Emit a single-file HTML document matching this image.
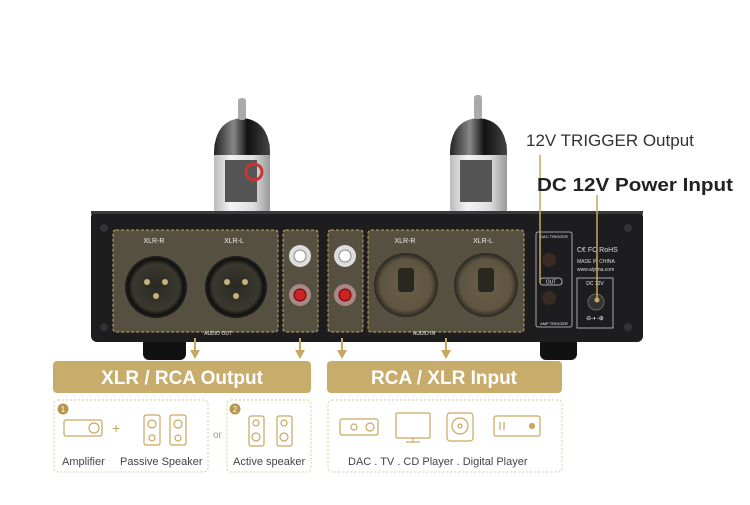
<!DOCTYPE html>
<html><head><style>
body{margin:0;width:750px;height:500px;background:#fff;overflow:hidden;font-family:"Liberation Sans",sans-serif}
</style></head><body>
<svg width="750" height="500" viewBox="0 0 750 500" xmlns="http://www.w3.org/2000/svg">
<defs>
<linearGradient id="glass" x1="0" x2="1"><stop offset="0" stop-color="#bbb"/><stop offset="0.3" stop-color="#f4f4f4"/><stop offset="0.7" stop-color="#ddd"/><stop offset="1" stop-color="#999"/></linearGradient>
<linearGradient id="dome" x1="0" x2="1"><stop offset="0" stop-color="#222"/><stop offset="0.35" stop-color="#888"/><stop offset="0.6" stop-color="#111"/><stop offset="1" stop-color="#444"/></linearGradient>
<radialGradient id="xlr"><stop offset="0" stop-color="#2a2a24"/><stop offset="0.75" stop-color="#3a382e"/><stop offset="0.9" stop-color="#111"/><stop offset="1" stop-color="#222"/></radialGradient>
<radialGradient id="combo"><stop offset="0" stop-color="#6b6048"/><stop offset="0.8" stop-color="#5e5440"/><stop offset="1" stop-color="#2a2720"/></radialGradient>
</defs>
<g>
<rect x="214" y="140" width="56" height="75" rx="6" fill="url(#glass)"/>
<path d="M214 155 Q214 120 242 118 Q270 120 270 155 Z" fill="url(#dome)"/>
<rect x="238" y="98" width="8" height="22" rx="3" fill="#aaa"/>
<rect x="225" y="160" width="32" height="42" fill="#555"/>
<circle cx="254" cy="172" r="8" fill="none" stroke="#c33" stroke-width="3"/>
<rect x="450" y="140" width="57" height="75" rx="6" fill="url(#glass)"/>
<path d="M450 155 Q450 120 478 118 Q507 120 507 155 Z" fill="url(#dome)"/>
<rect x="474" y="95" width="8" height="24" rx="3" fill="#aaa"/>
<rect x="460" y="160" width="32" height="42" fill="#555"/>
</g>
<rect x="143" y="335" width="43" height="25" rx="6" fill="#111"/>
<rect x="540" y="335" width="37" height="25" rx="6" fill="#111"/>
<rect x="91" y="211" width="552" height="131" rx="6" fill="#1d1d1f"/>
<rect x="91" y="211" width="552" height="3" fill="#3a3a3c"/>
<circle cx="104" cy="228" r="4" fill="#333"/><circle cx="104" cy="327" r="4" fill="#333"/><circle cx="628" cy="228" r="4" fill="#333"/><circle cx="628" cy="327" r="4" fill="#333"/>
<g fill="#55503f" stroke="#c9a760" stroke-width="1" stroke-dasharray="3,2">
<rect x="113" y="230" width="165" height="102" rx="3"/>
<rect x="283" y="230" width="35" height="102" rx="3"/>
<rect x="328" y="230" width="35" height="102" rx="3"/>
<rect x="368" y="230" width="156" height="102" rx="3"/>
</g>
<g font-size="7" fill="#eee" text-anchor="middle">
<text x="154" y="243">XLR-R</text><text x="234" y="243">XLR-L</text>
<text x="405" y="243">XLR-R</text><text x="483" y="243">XLR-L</text>
<text x="218" y="335" font-size="5">AUDIO OUT</text><text x="424" y="335" font-size="5">AUDIO IN</text>
</g>
<circle cx="156" cy="287" r="31" fill="url(#xlr)"/><circle cx="236" cy="287" r="31" fill="url(#xlr)"/>
<g fill="#c9b37a"><circle cx="147" cy="282" r="3"/><circle cx="165" cy="282" r="3"/><circle cx="156" cy="296" r="3"/><circle cx="227" cy="282" r="3"/><circle cx="245" cy="282" r="3"/><circle cx="236" cy="296" r="3"/></g>
<circle cx="406" cy="285" r="32" fill="url(#combo)"/><circle cx="486" cy="285" r="32" fill="url(#combo)"/>
<rect x="398" y="268" width="16" height="24" rx="3" fill="#2a2720"/><rect x="478" y="268" width="16" height="24" rx="3" fill="#2a2720"/>
<g><circle cx="300" cy="256" r="11" fill="#ddd"/><circle cx="300" cy="256" r="6" fill="#fff" stroke="#888"/>
<circle cx="345" cy="256" r="11" fill="#ddd"/><circle cx="345" cy="256" r="6" fill="#fff" stroke="#888"/>
<circle cx="300" cy="295" r="11" fill="#a88"/><circle cx="300" cy="295" r="6" fill="#c22" stroke="#600"/>
<circle cx="345" cy="295" r="11" fill="#a88"/><circle cx="345" cy="295" r="6" fill="#c22" stroke="#600"/></g>
<rect x="536" y="232" width="36" height="95" rx="2" fill="none" stroke="#ccc" stroke-width="0.8"/>
<circle cx="549" cy="260" r="7" fill="#3a2a22"/><circle cx="549" cy="298" r="7" fill="#3a2a22"/>
<rect x="540" y="278" width="22" height="7" rx="3" fill="none" stroke="#ddd" stroke-width="0.8"/>
<text x="551" y="283.5" font-size="5" fill="#eee" text-anchor="middle">OUT</text>
<text x="554" y="238" font-size="4" fill="#eee" text-anchor="middle">DAC TRIGGER</text>
<text x="554" y="325" font-size="4" fill="#eee" text-anchor="middle">AMP TRIGGER</text>
<text x="577" y="252" font-size="7" fill="#ddd">C€ FC RoHS</text>
<text x="577" y="263" font-size="5" fill="#ddd">MADE IN CHINA</text>
<text x="577" y="271" font-size="5" fill="#ddd">www.aiyima.com</text>
<rect x="577" y="278" width="36" height="50" fill="none" stroke="#ccc" stroke-width="0.8"/>
<text x="595" y="285" font-size="5" fill="#eee" text-anchor="middle">DC 12V</text>
<circle cx="596" cy="302" r="8" fill="#333" stroke="#666"/>
<text x="595" y="320" font-size="6" fill="#eee" text-anchor="middle">⊖-◐-⊕</text>
<line x1="540" y1="155" x2="540" y2="283" stroke="#c9a760" stroke-width="1.5"/>
<line x1="597" y1="195" x2="597" y2="300" stroke="#c9a760" stroke-width="1.5"/>
<circle cx="597" cy="300" r="2.5" fill="#c9a760"/>
<text x="526" y="146" font-size="17" fill="#333">12V TRIGGER Output</text>
<text x="537" y="191" font-size="18" font-weight="bold" fill="#222" textLength="196" lengthAdjust="spacingAndGlyphs">DC 12V Power Input</text>
<g stroke="#c9a760" stroke-width="2" fill="#c9a760">
<line x1="195" y1="338" x2="195" y2="350"/><polygon points="190,350 200,350 195,359" stroke="none"/>
<line x1="300" y1="338" x2="300" y2="350"/><polygon points="295,350 305,350 300,359" stroke="none"/>
<line x1="342" y1="338" x2="342" y2="350"/><polygon points="337,350 347,350 342,359" stroke="none"/>
<line x1="446" y1="338" x2="446" y2="350"/><polygon points="441,350 451,350 446,359" stroke="none"/>
</g>
<rect x="53" y="361" width="258" height="32" rx="4" fill="#c8ac6c"/>
<rect x="327" y="361" width="235" height="32" rx="4" fill="#c8ac6c"/>
<text x="182" y="384" font-size="19" font-weight="bold" fill="#fff" text-anchor="middle">XLR / RCA Output</text>
<text x="444" y="384" font-size="19" font-weight="bold" fill="#fff" text-anchor="middle">RCA / XLR Input</text>
<g fill="none" stroke="#d9c9a2" stroke-dasharray="2,2">
<rect x="54" y="400" width="154" height="72" rx="4"/>
<rect x="227" y="400" width="84" height="72" rx="4"/>
<rect x="328" y="400" width="234" height="72" rx="4"/>
</g>
<g fill="#b8954c"><circle cx="63" cy="409" r="5.5"/><circle cx="235" cy="409" r="5.5"/></g>
<text x="63" y="412" font-size="8" fill="#fff" text-anchor="middle">1</text>
<text x="235" y="412" font-size="8" fill="#fff" text-anchor="middle">2</text>
<g fill="none" stroke="#c9a760" stroke-width="1.2">
<rect x="64" y="420" width="38" height="16" rx="2"/><circle cx="94" cy="428" r="5"/>
<rect x="144" y="415" width="16" height="30" rx="2"/><rect x="170" y="415" width="16" height="30" rx="2"/>
<circle cx="152" cy="424" r="4"/><circle cx="178" cy="424" r="4"/><circle cx="152" cy="438" r="3"/><circle cx="178" cy="438" r="3"/>
<rect x="249" y="416" width="15" height="30" rx="2"/><rect x="277" y="416" width="15" height="30" rx="2"/>
<circle cx="256" cy="423" r="3"/><circle cx="284" cy="423" r="3"/><circle cx="256" cy="437" r="4"/><circle cx="284" cy="437" r="4"/>
<rect x="340" y="419" width="38" height="16" rx="2"/><circle cx="354" cy="427" r="3"/><circle cx="370" cy="427" r="4"/>
<rect x="396" y="413" width="34" height="25" rx="1"/><line x1="413" y1="438" x2="413" y2="442"/><line x1="406" y1="442" x2="420" y2="442"/>
<rect x="447" y="413" width="26" height="28" rx="3"/><circle cx="460" cy="426" r="8"/><circle cx="460" cy="426" r="2"/>
<rect x="494" y="416" width="46" height="20" rx="2"/>
<line x1="500" y1="422" x2="500" y2="430"/><line x1="504" y1="422" x2="504" y2="430"/><circle cx="532" cy="426" r="2.5" fill="#c9a760"/>
</g>
<text x="112" y="433" font-size="14" fill="#c9a760">+</text>
<text x="213" y="438" font-size="10" fill="#999">or</text>
<g font-size="11" fill="#444">
<text x="62" y="465">Amplifier</text><text x="120" y="465">Passive Speaker</text>
<text x="233" y="465">Active speaker</text><text x="348" y="465">DAC . TV . CD Player . Digital Player</text>
</g>
</svg>
</body></html>
